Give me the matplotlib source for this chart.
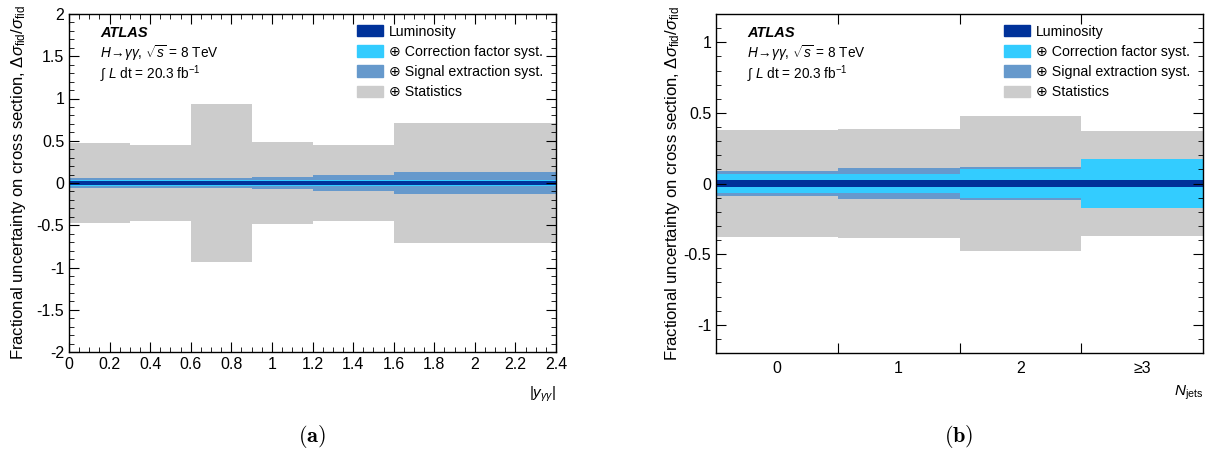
import numpy as np
import matplotlib
matplotlib.use("Agg")
import matplotlib.pyplot as plt
from matplotlib.patches import Patch
from matplotlib.ticker import MultipleLocator, FixedLocator, FuncFormatter, NullFormatter, FixedFormatter

plt.rcParams['font.family'] = ['Liberation Sans', 'DejaVu Sans']
plt.rcParams['mathtext.fontset'] = 'custom'
plt.rcParams['mathtext.rm'] = 'Liberation Sans'
plt.rcParams['mathtext.it'] = 'Liberation Sans:italic'
plt.rcParams['mathtext.bf'] = 'Liberation Sans:bold'

# panel (a): |y_gg| bins
y_edges = [0, 0.3, 0.6, 0.9, 1.2, 1.6, 2.4]
y_stat = [0.47, 0.45, 0.93, 0.48, 0.455, 0.71]
y_sig = [0.063, 0.063, 0.065, 0.068, 0.09, 0.125]
y_corr = [0.033, 0.033, 0.033, 0.034, 0.035, 0.036]
y_lumi = [0.028, 0.028, 0.028, 0.028, 0.028, 0.028]

# panel (b): N_jets bins
nj_labels = ['0', '1', '2', '\u22653']
nj_edges = [-0.5, 0.5, 1.5, 2.5, 3.5]
nj_stat = [0.38, 0.385, 0.475, 0.37]
nj_sig = [0.09, 0.11, 0.12, 0.17]
nj_corr = [0.065, 0.065, 0.105, 0.17]
nj_lumi = [0.028, 0.028, 0.028, 0.028]

C_LUMI = '#00329a'
C_CORR = '#33ccff'
C_SIG = '#6699cc'
C_STAT = '#cccccc'

W, H = 1227, 457
fig = plt.figure(figsize=(W / 100, H / 100), dpi=100)
axa = fig.add_axes([69 / W, (H - 352) / H, 487 / W, 338 / H])
axb = fig.add_axes([716 / W, (H - 353) / H, 487 / W, 339 / H])

fmt = FuncFormatter(lambda v, p: '%g' % v)


def draw_bands(ax, edges, stat, sig, corr, lumi, ylpad):
    for vals, col in [(stat, C_STAT), (sig, C_SIG), (corr, C_CORR), (lumi, C_LUMI)]:
        v = np.array(vals)
        ax.stairs(v, edges, baseline=-v, fill=True, color=col, lw=0)
    ax.set_xlim(edges[0], edges[-1])
    ax.set_ylabel(r'Fractional uncertainty on cross section, $\Delta\sigma_{\rm fid}/\sigma_{\rm fid}$',
                  fontsize=12, labelpad=ylpad)
    ax.text(0.064, 0.944, 'ATLAS', transform=ax.transAxes, fontsize=10.5,
            fontweight='bold', style='italic', va='center')
    ax.text(0.064, 0.885, r'$H\!\rightarrow\!\gamma\gamma$, $\sqrt{s}$ = 8 TeV',
            transform=ax.transAxes, fontsize=9.8, va='center')
    ax.text(0.064, 0.822, r'$\int$ $L$ dt = 20.3 fb$^{-1}$',
            transform=ax.transAxes, fontsize=9.8, va='center')
    handles = [Patch(color=C_LUMI), Patch(color=C_CORR), Patch(color=C_SIG), Patch(color=C_STAT)]
    labels = ['Luminosity', '\u2295 Correction factor syst.',
              '\u2295 Signal extraction syst.', '\u2295 Statistics']
    ax.legend(handles, labels, loc='upper left', bbox_to_anchor=(0.57, 1.0),
              frameon=False, fontsize=10.2, handlelength=1.8, handleheight=0.86,
              handletextpad=0.45, labelspacing=0.44, borderaxespad=0.45,
              borderpad=0.3)
    ax.tick_params(which='both', direction='in', top=True, right=True, labelsize=11.5)
    ax.tick_params(which='major', length=7)
    ax.tick_params(which='minor', length=3.5)
    for s in ax.spines.values():
        s.set_linewidth(1.0)


draw_bands(axa, y_edges, y_stat, y_sig, y_corr, y_lumi, 6)
axa.set_ylim(-2, 2)
axa.xaxis.set_major_locator(MultipleLocator(0.2))
axa.xaxis.set_minor_locator(MultipleLocator(0.05))
axa.yaxis.set_major_locator(MultipleLocator(0.5))
axa.yaxis.set_minor_locator(MultipleLocator(0.1))
axa.xaxis.set_major_formatter(fmt)
axa.yaxis.set_major_formatter(fmt)
axa.set_xlabel(r'$|y_{\gamma\gamma}|$', loc='right', fontsize=11, labelpad=9)

draw_bands(axb, nj_edges, nj_stat, nj_sig, nj_corr, nj_lumi, 1)
axb.set_ylim(-1.2, 1.2)
axb.xaxis.set_major_locator(FixedLocator(nj_edges[1:-1]))
axb.xaxis.set_major_formatter(NullFormatter())
axb.xaxis.set_minor_locator(FixedLocator(range(len(nj_labels))))
axb.xaxis.set_minor_formatter(FixedFormatter(nj_labels))
axb.tick_params(axis='x', which='minor', length=0, labelsize=11.5, pad=6)
axb.yaxis.set_major_locator(MultipleLocator(0.5))
axb.yaxis.set_minor_locator(MultipleLocator(0.1))
axb.yaxis.set_major_formatter(fmt)
axb.set_xlabel(r'$N_{\rm jets}$', loc='right', fontsize=11, labelpad=5)

fig.text((69 + 243) / W, 20 / H, r'$\mathbf{(a)}$', ha='center', va='center',
         fontsize=16, math_fontfamily='cm')
fig.text((716 + 243) / W, 20 / H, r'$\mathbf{(b)}$', ha='center', va='center',
         fontsize=16, math_fontfamily='cm')

fig.savefig('out.png', dpi=100)
